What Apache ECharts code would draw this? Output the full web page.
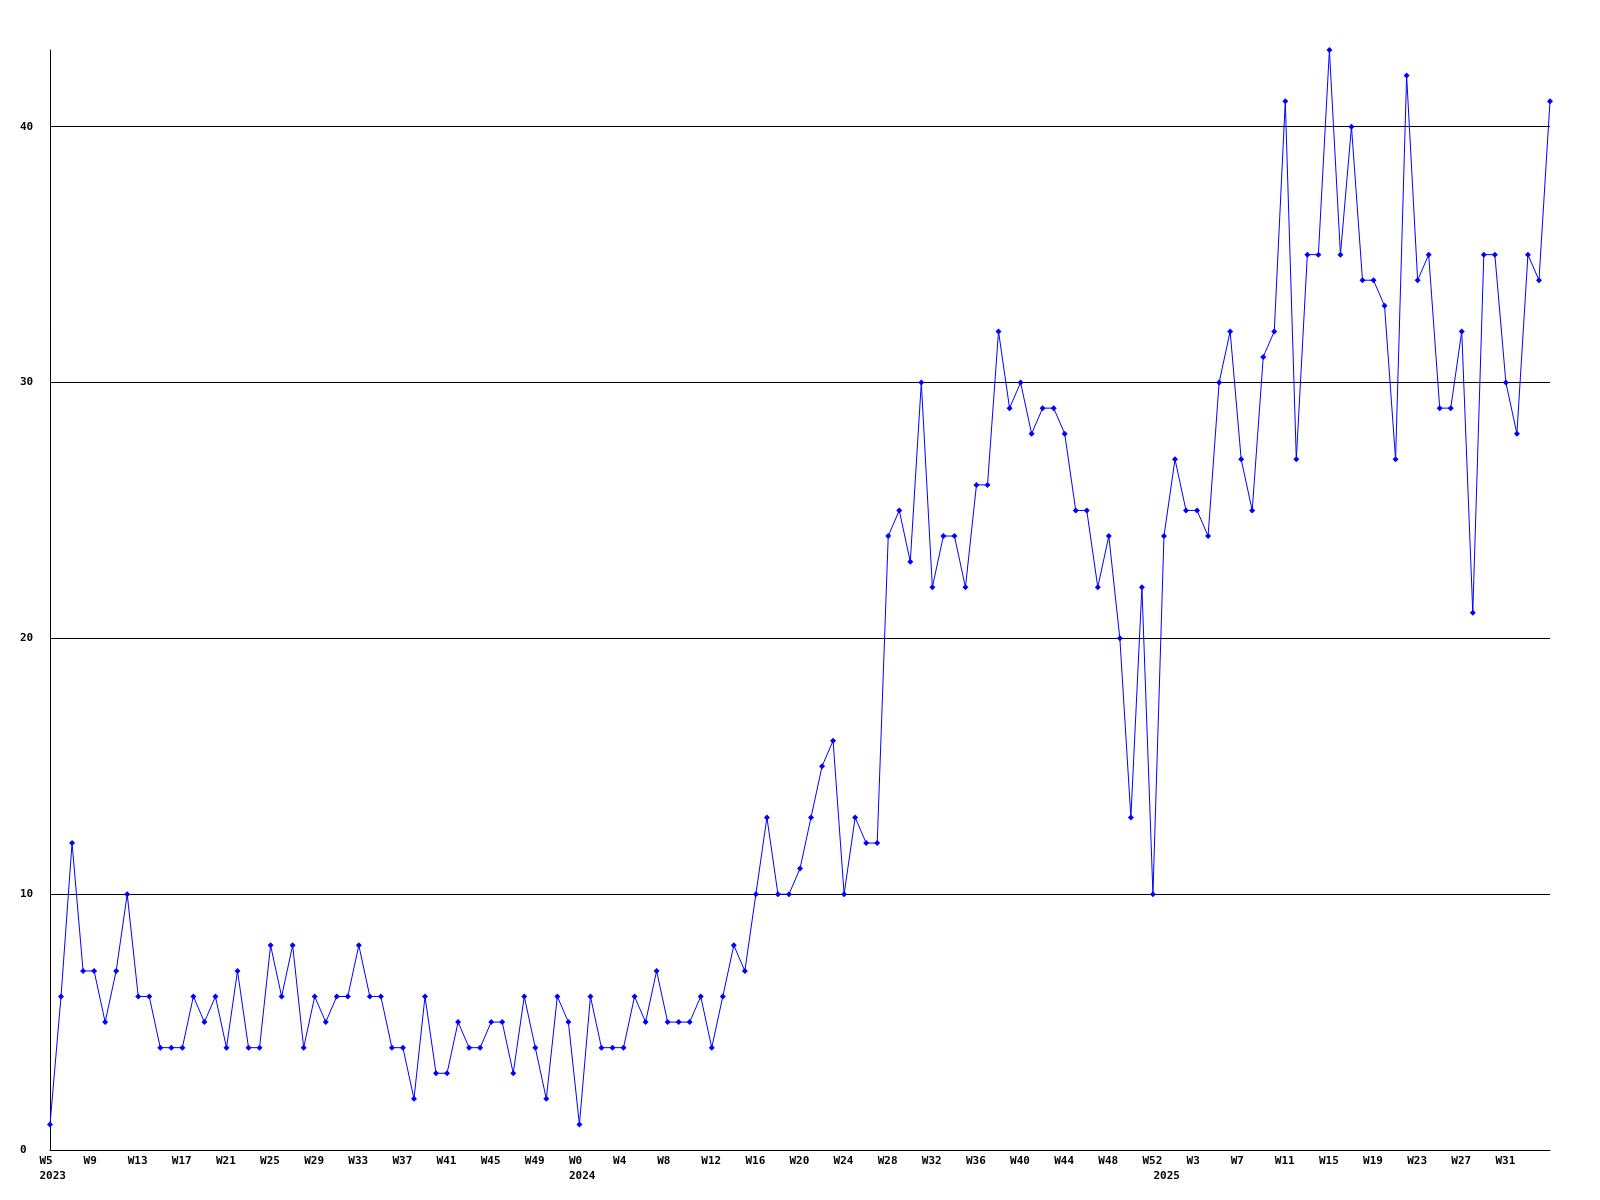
<!DOCTYPE html>
<html>
<head>
<meta charset="utf-8">
<script src="https://cdn.jsdelivr.net/npm/echarts@6/dist/echarts.min.js"></script>
<style>
html,body{margin:0;padding:0;background:#fff;}
#chart{width:1600px;height:1200px;}
</style>
</head>
<body>
<div id="chart"></div>
<script>
// Week numbers per year (category labels)
const weeks2023 = [5,6,7,8,9,10,11,12,13,14,15,16,17,18,19,20,21,22,23,24,25,26,27,28,29,30,31,32,33,34,35,36,37,38,39,40,41,42,43,44,45,46,47,48,49,50,51,52];
const weeks2024 = [0,1,2,3,4,5,6,7,8,9,10,11,12,13,14,15,16,17,18,19,20,21,22,23,24,25,26,27,28,29,30,31,32,33,34,35,36,37,38,39,40,41,42,43,44,45,46,47,48,49,50,51,52];
const weeks2025 = [0,1,2,3,4,5,6,7,8,9,10,11,12,13,14,15,16,17,18,19,20,21,22,23,24,25,26,27,28,29,30,31,32,33,34,35];

// Series values per year
const values2023 = [1,6,12,7,7,5,7,10,6,6, 4,4,4,6,5,6,4,7,4,4, 8,6,8,4,6,5,6,6,8,6, 6,4,4,2,6,3,3,5,4,4, 5,5,3,6,4,2,6,5];
const values2024 = [1,6,4,4,4,6,5,7,5,5, 5,6,4,6,8,7,10,13,10,10, 11,13,15,16,10,13,12,12,24,25, 23,30,22,24,24,22,26,26,32,29, 30,28,29,29,28,25,25,22,24,20, 13,22,10];
const values2025 = [24,27,25,25,24,30,32,27,25,31, 32,41,27,35,35,43,35,40,34,34, 33,27,42,34,35,29,29,32,21,35, 35,30,28,35,34,41];

// Y tick labels
const yTicks = [0, 10, 20, 30, 40];

const years = [
  {year: '2023', weeks: weeks2023},
  {year: '2024', weeks: weeks2024},
  {year: '2025', weeks: weeks2025}
];

const categories = [];
const yearStartIndex = {};
years.forEach(function (y) {
  yearStartIndex[categories.length] = y.year;
  y.weeks.forEach(function (w) { categories.push(y.year + '-W' + w); });
});
const values = values2023.concat(values2024, values2025);
const lastIdx = categories.length - 1;

const font = 'DejaVu Sans Mono';

function showWeek(idx) { return idx % 4 === 0 && idx !== lastIdx; }

const chart = echarts.init(document.getElementById('chart'), null, {renderer: 'canvas'});
chart.setOption({
  animation: false,
  backgroundColor: '#ffffff',
  grid: [
    {left: 50, right: 50, top: 50, bottom: 50, containLabel: false},
    {left: 39.5, right: 60.5, top: 50, bottom: 50, containLabel: false}
  ],
  xAxis: [
    {
      type: 'category', gridIndex: 0, data: categories, boundaryGap: false,
      axisLine: {show: true, onZero: true, lineStyle: {color: '#000', width: 1}},
      axisTick: {show: false},
      axisLabel: {show: false},
      splitLine: {show: false}
    },
    {
      type: 'category', gridIndex: 1, data: categories, boundaryGap: false,
      axisLine: {show: false},
      axisTick: {show: false},
      splitLine: {show: false},
      axisLabel: {
        show: true,
        interval: function (idx) { return showWeek(idx) || yearStartIndex[idx] !== undefined; },
        align: 'left',
        margin: 4,
        color: '#000',
        fontFamily: font,
        fontWeight: 'bold',
        fontSize: 11,
        lineHeight: 15,
        formatter: function (value, idx) {
          const wk = value.split('-')[1];
          const yr = yearStartIndex[idx];
          const top = showWeek(idx) ? wk : '';
          return yr !== undefined ? top + '\n' + yr : top;
        }
      }
    }
  ],
  yAxis: [
    {
      type: 'value', gridIndex: 0, min: 0, max: 43, interval: 10,
      axisLine: {show: true, lineStyle: {color: '#000', width: 1}},
      axisTick: {show: false},
      splitLine: {show: true, showMaxLine: false, lineStyle: {color: '#000', width: 1}},
      axisLabel: {
        show: true, align: 'left', margin: 30, color: '#000',
        fontFamily: font, fontWeight: 'bold', fontSize: 11,
        showMaxLabel: false,
        formatter: function (v) { return yTicks.indexOf(v) >= 0 ? String(v) : ''; }
      }
    },
    {type: 'value', gridIndex: 1, show: false}
  ],
  series: [
    {
      type: 'line', xAxisIndex: 0, yAxisIndex: 0, data: values,
      symbol: 'diamond', symbolSize: 6, showAllSymbol: true,
      lineStyle: {color: '#0000ff', width: 1},
      itemStyle: {color: '#0000ff'},
      emphasis: {disabled: true}
    }
  ]
});
</script>
</body>
</html>
